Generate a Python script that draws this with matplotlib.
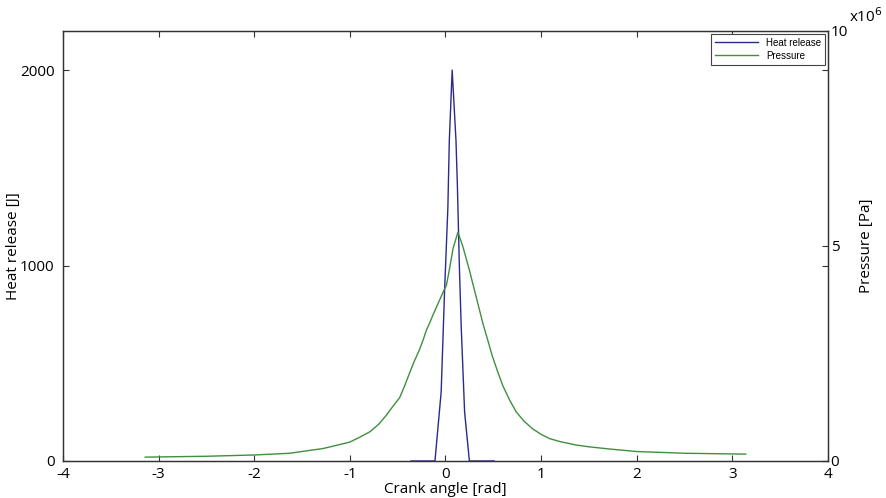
import numpy as np
import matplotlib
matplotlib.use('Agg')
import matplotlib.pyplot as plt

# heat release (left axis)
theta_hr = [-0.36, -0.11, -0.045, -0.01, 0.025, 0.04, 0.07, 0.11, 0.125,
            0.145, 0.164, 0.20, 0.25, 0.51]
heat = [0, 0, 354, 864, 1297, 1638, 2000, 1638, 1400,
        1000, 694, 251, 0, 0]

# pressure (right axis), in Pa
theta_p = [-3.14, -2.5, -2.0, -1.63, -1.28, -1.0, -0.9, -0.79, -0.7, -0.62,
           -0.55, -0.48, -0.43, -0.38, -0.33, -0.27, -0.23, -0.20, -0.16,
           -0.13, -0.08, -0.03, 0.01, 0.04, 0.08, 0.13, 0.18, 0.25, 0.30,
           0.39, 0.45, 0.49, 0.55, 0.60, 0.67, 0.74, 0.82, 0.91, 1.0, 1.09,
           1.2, 1.37, 1.5, 1.71, 2.0, 2.5, 3.14]
press = np.array([0.09, 0.11, 0.14, 0.18, 0.29, 0.44, 0.55, 0.68, 0.85, 1.06,
                  1.27, 1.47, 1.73, 2.02, 2.30, 2.60, 2.84, 3.04, 3.24,
                  3.40, 3.65, 3.90, 4.09, 4.44, 4.95, 5.32, 5.0, 4.44, 4.0,
                  3.21, 2.75, 2.44, 2.05, 1.75, 1.42, 1.14, 0.93, 0.75, 0.62, 0.52,
                  0.45, 0.37, 0.33, 0.28, 0.22, 0.18, 0.16]) * 1e6

xticks = [-4, -3, -2, -1, 0, 1, 2, 3, 4]
hr_ticks = [0, 1000, 2000]
p_ticks = [0, 5e6, 10e6]
p_ticklabels = ['0', '5', '10']

blue = '#2a2a8c'
green = '#3f8f3f'

plt.rcParams['font.family'] = ['Open Sans', 'DejaVu Sans']
plt.rcParams['axes.unicode_minus'] = False

fig = plt.figure(figsize=(8.86, 4.98), dpi=100)
ax = fig.add_axes([0.0711, 0.0743, 0.8634, 0.8635])
ax2 = ax.twinx()

l1, = ax.plot(theta_hr, heat, color=blue, lw=1.0, label='Heat release')
l2, = ax2.plot(theta_p, press, color=green, lw=1.0, label='Pressure')

ax.set_xlim(-4, 4)
ax.set_ylim(0, 2200)
ax2.set_ylim(0, 1e7)
ax.set_xticks(xticks)
ax.set_yticks(hr_ticks)
ax2.set_yticks(p_ticks)
ax2.set_yticklabels(p_ticklabels)

ax.tick_params(direction='in', length=4, labelsize=11, top=True, right=True,
               pad=6, color='#333333')
ax.tick_params(axis='x', pad=4)
ax2.tick_params(direction='in', length=4, labelsize=11, pad=2, color='#333333')

for a in (ax, ax2):
    for s in a.spines.values():
        s.set_color('#333333')
        s.set_linewidth(0.9)

ax.set_xlabel('Crank angle [rad]', fontsize=11, labelpad=0)
ax.set_ylabel('Heat release [J]', fontsize=11, labelpad=-1)
ax2.set_ylabel('Pressure [Pa]', fontsize=11, labelpad=8)

ax2.text(1.027, 1.012, 'x10$^{6}$', transform=ax2.transAxes, fontsize=11,
         ha='left', va='bottom')

leg = ax2.legend(handles=[l1, l2], loc='upper right',
                 prop={'family': 'Liberation Sans', 'size': 7},
                 fancybox=False, framealpha=1, edgecolor='#444444',
                 borderaxespad=0.3, handlelength=4.5, labelspacing=0.3,
                 borderpad=0.4)
leg.get_frame().set_linewidth(0.8)

fig.savefig('out.png', dpi=100)
